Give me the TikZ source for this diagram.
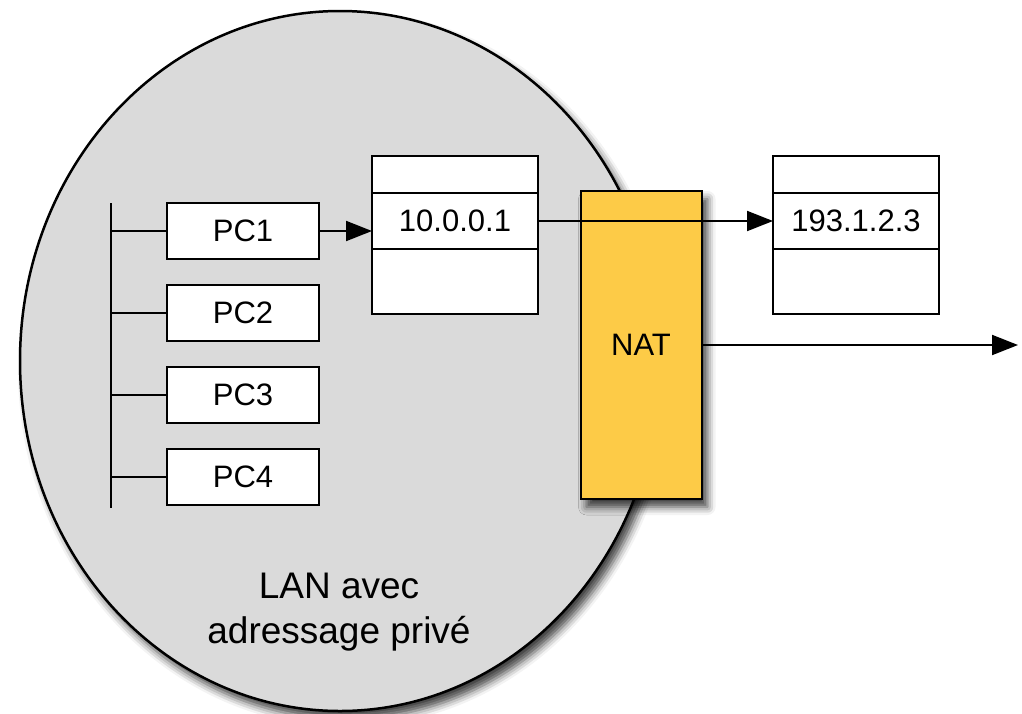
\documentclass[tikz,border=0pt]{standalone}
\usepackage{fontspec}
\setmainfont{Liberation Sans}
\usepackage{tikz}
\usetikzlibrary{arrows.meta,positioning,shapes.geometric,shadows.blur}
\definecolor{langray}{RGB}{218,218,218}
\definecolor{natyellow}{RGB}{253,203,71}
\begin{document}
\begin{tikzpicture}[x=1pt,y=-1pt,auto,
  lan node/.style={ellipse,draw,line width=2.5pt,fill=langray,minimum width=640pt,minimum height=700pt,inner sep=0pt,
    blur shadow={shadow xshift=6pt,shadow yshift=-8pt,shadow blur radius=8pt,shadow opacity=75}},
  pc node/.style={rectangle,draw,line width=2pt,fill=white,minimum width=152pt,minimum height=56pt,inner sep=0pt,outer sep=0pt},
  pkt node/.style={rectangle,draw,line width=2pt,fill=white,minimum width=166pt,inner sep=0pt,outer sep=0pt},
  nat node/.style={rectangle,draw,line width=2pt,fill=natyellow,minimum width=121pt,minimum height=308pt,inner sep=0pt,
    blur shadow={shadow xshift=6pt,shadow yshift=-8pt,shadow blur radius=8pt,shadow opacity=75}},
  tip/.style={-{Triangle[length=26pt,width=20pt]}}]
\useasboundingbox (0,0) rectangle (1022,713);
\begin{scope}[every node/.style={font=\fontsize{31}{45}\selectfont}]
\node[lan node] (lan) at (340,361) {};
\node[align=center,font=\fontsize{37}{45}\selectfont] (lanlabel) at (339,612) {LAN avec\\adressage privé};
\node[pc node] (pc1) at (243,231) {PC1};
\node[pc node] (pc2) at (243,313) {PC2};
\node[pc node] (pc3) at (243,395) {PC3};
\node[pc node] (pc4) at (243,477) {PC4};
\coordinate (bustop) at (111,203);
\coordinate (busbot) at (111,508);
\node[pkt node,minimum height=56pt] (pkt1mid) at (455,221) {10.0.0.1};
\node[pkt node,minimum height=37pt,above=0pt of pkt1mid] (pkt1top) {};
\node[pkt node,minimum height=65pt,below=0pt of pkt1mid] (pkt1bot) {};
\node[pkt node,minimum height=56pt] (pkt2mid) at (856,221) {193.1.2.3};
\node[pkt node,minimum height=37pt,above=0pt of pkt2mid] (pkt2top) {};
\node[pkt node,minimum height=65pt,below=0pt of pkt2mid] (pkt2bot) {};
\node[nat node] (nat) at (641,345) {NAT};
\coordinate (wan) at (1018,345);
\end{scope}
\begin{scope}[every edge/.style={draw=black,line width=2pt}]
\draw (bustop) edge (busbot);
\draw (pc1.west -| bustop) edge (pc1.west);
\draw (pc2.west -| bustop) edge (pc2.west);
\draw (pc3.west -| bustop) edge (pc3.west);
\draw (pc4.west -| bustop) edge (pc4.west);
\draw (pc1) edge[tip] (pkt1mid.west |- pc1);
\draw (pkt1mid) edge[tip] (pkt2mid);
\draw (nat) edge[tip] (wan);
\end{scope}
\end{tikzpicture}
\end{document}
